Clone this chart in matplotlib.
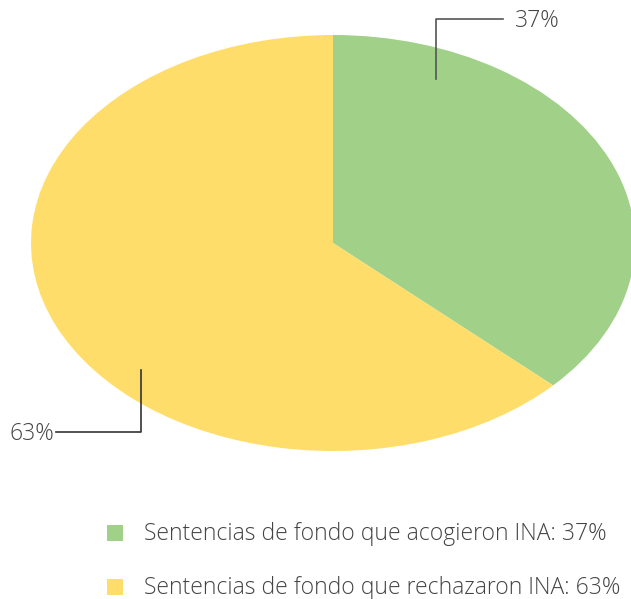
import matplotlib.pyplot as plt
from matplotlib.patches import Rectangle

# datos
labels = ['Sentencias de fondo que acogieron INA', 'Sentencias de fondo que rechazaron INA']
values = [37, 63]
colors = ['#a1d189', '#ffdd6a']

plt.rcParams['font.family'] = ['Open Sans', 'DejaVu Sans']
txt_color = '#444444'
fs = 16.5

fig = plt.figure(figsize=(6.31, 5.99), dpi=100)

# pie (eliptico)
ax = fig.add_axes([31 / 631, (599 - 451) / 599, 604 / 631, 416 / 599])
ax.pie(values, colors=colors, startangle=90, counterclock=False,
       wedgeprops={'linewidth': 0})
ax.set_aspect('auto')
ax.set_xlim(-1, 1)
ax.set_ylim(-1, 1)
ax.axis('off')

# capa en pixeles para etiquetas y leyenda
ov = fig.add_axes([0, 0, 1, 1])
ov.set_xlim(0, 631)
ov.set_ylim(599, 0)
ov.axis('off')

ov.plot([436, 436, 503], [79, 19, 19], color='#555555', lw=1.2)
ov.text(515, 21, f'{values[0]}%', fontsize=fs, color=txt_color,
        va='center', ha='left', fontweight=300)
ov.plot([141, 141, 56], [370, 432, 432], color='#333333', lw=1.2)
ov.text(54, 434, f'{values[1]}%', fontsize=fs, color=txt_color,
        va='center', ha='right', fontweight=300)

ys = [533, 587]
for lab, v, c, y in zip(labels, values, colors, ys):
    ov.add_patch(Rectangle((107, y - 8), 16, 16, color=c, lw=0))
    ov.text(144, y + 1, f'{lab}: {v}%', fontsize=fs, color=txt_color,
            va='center', ha='left', fontweight=300)

fig.savefig('out.png', dpi=100)
